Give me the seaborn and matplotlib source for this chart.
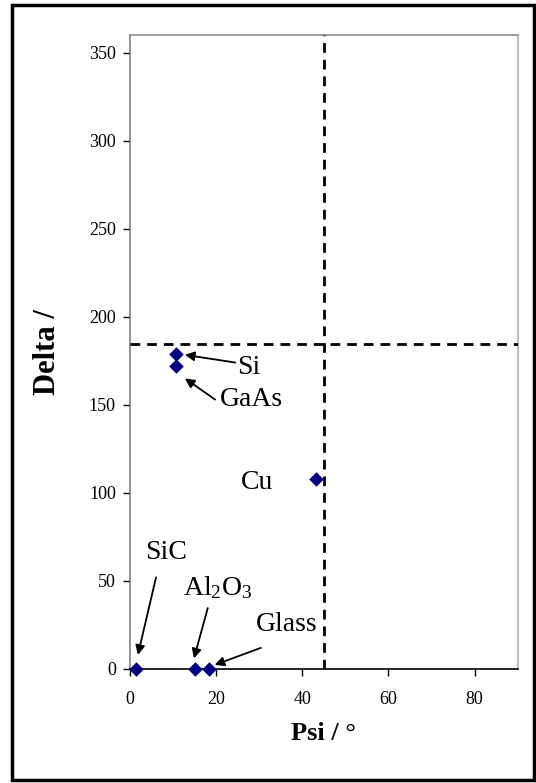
import matplotlib
matplotlib.use("Agg")
import matplotlib.pyplot as plt
import pandas as pd
import seaborn as sns
from matplotlib.patches import Rectangle

# materials, psi / delta
materials = ['Si', 'GaAs', 'Cu', 'SiC', 'Al2O3', 'Glass']
psi = [10.7, 10.7, 43.2, 1.5, 15.2, 18.5]
delta = [179, 172, 108, 0, 0, 0]
labels = ['Si', 'GaAs', 'Cu', 'SiC', r'$\mathregular{Al_2O_3}$', 'Glass']
# label positions (data units)
text_xy = [(25, 171), (21, 153), (29.5, 106), (8.5, 66), (20.5, 46), (36.5, 25)]
# arrow start and arrow tip offset from the point (None = no arrow)
arrow_from = [(24.5, 174), (19.8, 153), None, (6.1, 52), (18.1, 34.6), (30.4, 12)]
tip_off = [(2.1, -0.6), (2.1, -7), None, (0.4, 8), (-0.3, 6), (1.2, 2.3)]

psi_line = 45
delta_line = 184.5
yticks = [0, 50, 100, 150, 200, 250, 300, 350]
xticks = [0, 20, 40, 60, 80]

df = pd.DataFrame({'material': materials, 'psi': psi, 'delta': delta})

sns.set_style('white')
plt.rcParams['font.family'] = ['Liberation Serif', 'DejaVu Serif']
plt.rcParams['mathtext.fontset'] = 'custom'
plt.rcParams['mathtext.rm'] = 'Liberation Serif'
plt.rcParams['text.color'] = 'black'
plt.rcParams['xtick.color'] = 'black'
plt.rcParams['ytick.color'] = 'black'
plt.rcParams['axes.labelcolor'] = 'black'

fig = plt.figure(figsize=(5.36, 7.83), dpi=100)
ax = fig.add_axes([0.242, 0.1456, 0.724, 0.8097])

sns.scatterplot(data=df, x='psi', y='delta', marker='D', s=55, color='#000080',
                edgecolor='#000080', linewidth=0, ax=ax, zorder=5, clip_on=False)

ax.axvline(psi_line, color='black', lw=2, ls=(0, (3.5, 2.5)), zorder=3)
ax.axhline(delta_line, color='black', lw=2, ls=(0, (3.5, 2.5)), zorder=3)

for i in range(len(materials)):
    if arrow_from[i] is not None:
        tip = (psi[i] + tip_off[i][0], delta[i] + tip_off[i][1])
        ax.annotate('', xy=tip, xytext=arrow_from[i], annotation_clip=False,
                    arrowprops=dict(arrowstyle='-|>', color='black', lw=1.3,
                                    mutation_scale=14, shrinkA=0, shrinkB=0))
    ax.text(text_xy[i][0], text_xy[i][1], labels[i], fontsize=20,
            ha='left' if i < 2 else 'center', va='center')

ax.set_xlim(0, 90)
ax.set_ylim(0, 360)
ax.set_xticks(xticks)
ax.set_yticks(yticks)
ax.tick_params(axis='both', labelsize=13, direction='out', length=5, width=1,
               bottom=True, left=True, pad=5)
ax.tick_params(axis='x', pad=11)
ax.set_xlabel('Psi / °', fontsize=19, fontweight='bold', labelpad=10)
ax.set_ylabel('Delta /', fontsize=22, fontweight='bold', labelpad=19)

ax.spines['bottom'].set_color('black')
ax.spines['left'].set_color('#808080')
ax.spines['top'].set_color('#909090')
ax.spines['right'].set_color('#b0b0b0')
for s in ax.spines.values():
    s.set_linewidth(1.2)

fig.patches.append(Rectangle((12 / 536, 1 - 780 / 783), 522 / 536, 775 / 783,
                             transform=fig.transFigure, fill=False, ec='black', lw=2.5))

fig.savefig('out.png', dpi=100)
